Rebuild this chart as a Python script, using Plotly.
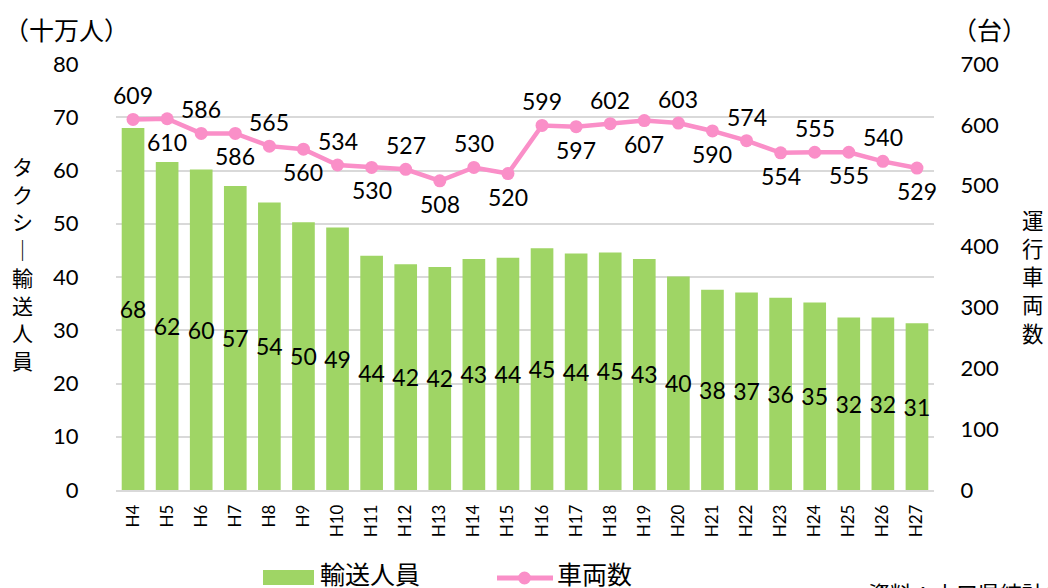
import plotly.graph_objects as go

years = ["H4", "H5", "H6", "H7", "H8", "H9", "H10", "H11", "H12", "H13", "H14", "H15",
         "H16", "H17", "H18", "H19", "H20", "H21", "H22", "H23", "H24", "H25", "H26", "H27"]
passengers = [68.0, 61.6, 60.2, 57.1, 54.0, 50.3, 49.3, 44.0, 42.4, 41.9, 43.4, 43.6,
              45.4, 44.4, 44.6, 43.4, 40.1, 37.6, 37.1, 36.1, 35.2, 32.4, 32.4, 31.3]
vehicles = [609, 610, 586, 586, 565, 560, 534, 530, 527, 508, 530, 520,
            599, 597, 602, 607, 603, 590, 574, 554, 555, 555, 540, 529]

GREEN = "#9FD565"
PINK = "#FA8FC8"
GRID = "#D9D9D9"
FONT = "Lato, Noto Sans CJK JP, sans-serif"
CJK = "Noto Sans CJK JP, sans-serif"

W, H = 1048, 588
L, R, T, B = 116, 934, 64, 490


def px(x):
    return (x - L) / (R - L)


def py(y):
    return (B - y) / (B - T)


fig = go.Figure()
fig.add_trace(go.Bar(
    x=years, y=passengers, name="輸送人員",
    marker=dict(color=GREEN, line=dict(width=0)),
    texttemplate="%{y:.0f}", textposition="inside", insidetextanchor="middle",
    textangle=0, constraintext="none",
    textfont=dict(family=FONT, size=23, color="#000000"),
    showlegend=False,
))
fig.add_trace(go.Scatter(
    x=years, y=vehicles, name="車両数", yaxis="y2",
    mode="lines+markers",
    line=dict(color=PINK, width=4.5),
    marker=dict(color=PINK, size=13),
    cliponaxis=False, showlegend=False,
))

annotations = []
for i, (c, v) in enumerate(zip(years, vehicles)):
    annotations.append(dict(
        x=c, y=v, xref="x", yref="y2", text=str(v), showarrow=False,
        yshift=24 if i % 2 == 0 else -23,
        font=dict(family=FONT, size=23, color="#000000"),
    ))

# unit labels
annotations.append(dict(x=px(2), y=py(29), xref="paper", yref="paper", xanchor="left",
                        yanchor="middle", text="（十万人）", showarrow=False,
                        font=dict(family=CJK, size=25, color="#000000")))
annotations.append(dict(x=px(950), y=py(29), xref="paper", yref="paper", xanchor="left",
                        yanchor="middle", text="（台）", showarrow=False,
                        font=dict(family=CJK, size=25, color="#000000")))

# vertical axis titles (stacked characters)
left_title = "タクシ｜輸送人員"
for i, ch in enumerate(left_title):
    annotations.append(dict(x=px(22), y=py(166 + i * 27.7), xref="paper", yref="paper",
                            xanchor="center", yanchor="middle", text=ch, showarrow=False,
                            font=dict(family=CJK, size=21, color="#000000")))
right_title = "運行車両数"
for i, ch in enumerate(right_title):
    annotations.append(dict(x=px(1033), y=py(219 + i * 28.3), xref="paper", yref="paper",
                            xanchor="center", yanchor="middle", text=ch, showarrow=False,
                            font=dict(family=CJK, size=21.5, color="#000000")))

# custom legend
shapes = [
    dict(type="rect", xref="paper", yref="paper", x0=px(263), x1=px(314),
         y0=py(585), y1=py(570), fillcolor=GREEN, line=dict(width=0)),
    dict(type="line", xref="paper", yref="paper", x0=px(497), x1=px(553),
         y0=py(578), y1=py(578), line=dict(color=PINK, width=5)),
    dict(type="circle", xref="paper", yref="paper", x0=px(518), x1=px(531),
         y0=py(584.5), y1=py(571.5), fillcolor=PINK, line=dict(width=0)),
]
annotations.append(dict(x=px(318), y=py(573), xref="paper", yref="paper", xanchor="left",
                        yanchor="middle", text="輸送人員", showarrow=False,
                        font=dict(family=CJK, size=25, color="#000000")))
annotations.append(dict(x=px(555), y=py(573), xref="paper", yref="paper", xanchor="left",
                        yanchor="middle", text="車両数", showarrow=False,
                        font=dict(family=CJK, size=25, color="#000000")))
# source note (cut off at bottom edge)
annotations.append(dict(x=px(866), y=py(574), xref="paper", yref="paper", xanchor="left",
                        yanchor="top", text="資料：山口県統計年鑑", showarrow=False,
                        font=dict(family=CJK, size=22, color="#000000")))

fig.update_layout(
    width=W, height=H,
    margin=dict(l=L, r=W - R, t=T, b=H - B, pad=0),
    paper_bgcolor="white", plot_bgcolor="white",
    bargap=0.335,
    font=dict(family=FONT, color="#000000"),
    xaxis=dict(
        type="category", range=[-0.5, len(years) - 0.5], autorange=False,
        tickangle=-90, showgrid=False, automargin=False,
        showline=True, linecolor=GRID, linewidth=1.5,
        ticks="outside", ticklen=6, tickcolor="rgba(0,0,0,0)",
        tickfont=dict(family=FONT, size=17, color="#000000"),
    ),
    yaxis=dict(
        range=[0, 80], dtick=10, showgrid=True, gridcolor=GRID, gridwidth=1.5,
        zeroline=False, showline=False, automargin=False,
        ticks="outside", ticklen=32, tickcolor="rgba(0,0,0,0)",
        tickfont=dict(family=FONT, size=22, color="#000000"),
    ),
    yaxis2=dict(
        range=[0, 700], dtick=100, overlaying="y", side="right", showgrid=False,
        zeroline=False, showline=False, automargin=False,
        ticks="outside", ticklen=21, tickcolor="rgba(0,0,0,0)",
        tickfont=dict(family=FONT, size=22, color="#000000"),
    ),
    annotations=annotations,
    shapes=shapes,
    showlegend=False,
)

fig.write_html("out.html", config={"displayModeBar": False},
               post_script="document.body.style.margin='0';document.body.style.overflow='hidden';")
